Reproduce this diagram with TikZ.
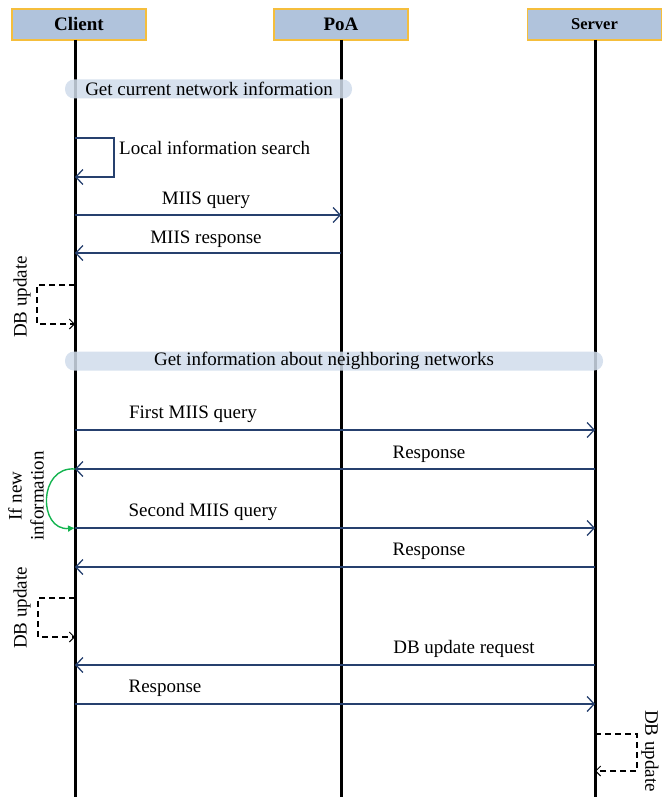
\documentclass[tikz,border=0pt]{standalone}
\usepackage{fontspec}
\setmainfont{Liberation Serif}
\usetikzlibrary{arrows.meta}
\definecolor{navy}{RGB}{38,64,110}
\definecolor{hdrfill}{RGB}{176,195,220}
\definecolor{hdrline}{RGB}{245,190,60}
\definecolor{bannerfill}{RGB}{208,220,235}
\definecolor{arcgreen}{RGB}{20,180,80}
\tikzset{
  hdr/.style={draw=hdrline, fill=hdrfill, line width=1.3pt, minimum width=134, minimum height=31, inner sep=0, font=\fontsize{19}{21}\selectfont\bfseries},
  lifeline/.style={line width=3pt, black},
  msg/.style={navy, line width=1.3pt, -{Straight Barb[length=7pt,width=15pt,line width=1.3pt]}},
  lbl/.style={font=\fontsize{19}{21}\selectfont, inner sep=0},
  banner/.style={fill=bannerfill, fill opacity=0.85, rounded corners=9pt, minimum height=19, inner sep=0},
  dbloop/.style={black, line width=1.6pt, dash pattern=on 6pt off 4pt, -{Straight Barb[length=5pt,width=10pt,line width=1pt]}},
  rlbl/.style={font=\fontsize{19}{22}\selectfont, inner sep=0, align=center}
}
\begin{document}
\begin{tikzpicture}[x=1pt,y=-1pt]
\useasboundingbox (0,0) rectangle (666,797);
% headers
\node[hdr] (client) at (79,24.5) {Client};
\node[hdr] (poa) at (341,24.5) {PoA};
\node[hdr, font=\fontsize{16.5}{19}\selectfont\bfseries] (server) at (594.5,24.5) {Server};
% lifelines
\coordinate (cT) at (75,40);  \coordinate (cB) at (75,797);
\coordinate (pT) at (341,40); \coordinate (pB) at (341,797);
\coordinate (sT) at (595,40); \coordinate (sB) at (595,797);
\draw[lifeline] (cT) -- (cB);
\draw[lifeline] (pT) -- (pB);
\draw[lifeline] (sT) -- (sB);
% banners
\node[banner, minimum width=287] (b1) at (208.5,89) {};
\node[lbl] (b1t) at (209,89) {Get current network information};
\node[banner, minimum width=538] (b2) at (334,361) {};
\node[lbl] (b2t) at (324,361) {Get information about neighboring networks};
% local search loop
\coordinate (ls1) at (75,138); \coordinate (ls2) at (75,177); \coordinate (lsR) at (114,138);
\draw[msg] (ls1) -- (lsR) |- (ls2);
\node[lbl, anchor=west] (lst) at (119,148) {Local information search};
% MIIS query / response
\coordinate (m1a) at (75,215); \coordinate (m1b) at (341,215);
\draw[msg] (m1a) -- (m1b);
\node[lbl] (m1t) at (206,200) {MIIS query};
\coordinate (m2a) at (341,253); \coordinate (m2b) at (75,253);
\draw[msg] (m2a) -- (m2b);
\node[lbl] (m2t) at (206,239) {MIIS response};
% DB update 1
\coordinate (d1a) at (75,285); \coordinate (d1L) at (37,285); \coordinate (d1b) at (75,324);
\draw[dbloop] (d1a) -- (d1L) |- (d1b);
\node[rlbl, rotate=90] (d1t) at (22,297) {DB update};
% First query
\coordinate (q1a) at (75,430); \coordinate (q1b) at (595,430);
\draw[msg] (q1a) -- (q1b);
\node[lbl] (q1t) at (193,414) {First MIIS query};
\coordinate (r1a) at (595,469); \coordinate (r1b) at (75,469);
\draw[msg] (r1a) -- (r1b);
\node[lbl] (r1t) at (429,454) {Response};
% green arc
\coordinate (g1) at (75,469); \coordinate (g2) at (75,528);
\draw[arcgreen, line width=1.4pt, -{Latex[length=7pt,width=7pt]}] (g1) .. controls (38,466) and (38,531) .. (g2);
\node[rlbl, rotate=90] (gt) at (26,496) {If new\\information};
% Second query
\coordinate (q2a) at (75,528); \coordinate (q2b) at (595,528);
\draw[msg] (q2a) -- (q2b);
\node[lbl] (q2t) at (203,512) {Second MIIS query};
\coordinate (r2a) at (595,567); \coordinate (r2b) at (75,567);
\draw[msg] (r2a) -- (r2b);
\node[lbl] (r2t) at (429,551) {Response};
% DB update 2
\coordinate (d2a) at (75,598); \coordinate (d2L) at (38,598); \coordinate (d2b) at (75,637);
\draw[dbloop] (d2a) -- (d2L) |- (d2b);
\node[rlbl, rotate=90] (d2t) at (22,608) {DB update};
% DB update request / response
\coordinate (u1a) at (595,665); \coordinate (u1b) at (75,665);
\draw[msg] (u1a) -- (u1b);
\node[lbl] (u1t) at (464,649) {DB update request};
\coordinate (u2a) at (75,704); \coordinate (u2b) at (595,704);
\draw[msg] (u2a) -- (u2b);
\node[lbl] (u2t) at (165,688) {Response};
% DB update 3
\coordinate (d3a) at (595,734); \coordinate (d3R) at (637,734); \coordinate (d3b) at (595,771);
\draw[dbloop] (d3a) -- (d3R) |- (d3b);
\node[rlbl, rotate=-90] (d3t) at (650,751) {DB update};
\end{tikzpicture}
\end{document}
